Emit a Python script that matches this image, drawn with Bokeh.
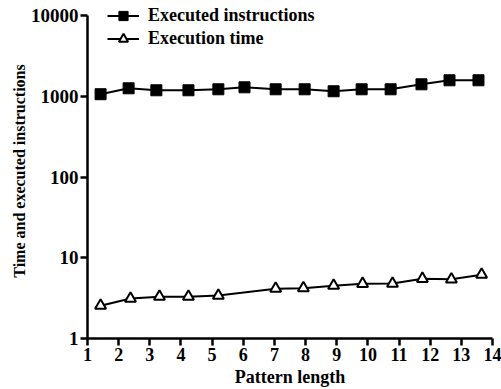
from bokeh.plotting import figure
from bokeh.models import FixedTicker, BasicTickFormatter
from bokeh.embed import file_html
from bokeh.resources import INLINE

# Data
instr_x = [1.42, 2.32, 3.21, 4.24, 5.2, 6.04, 7.04, 7.97, 8.9, 9.8, 10.73, 11.72, 12.62, 13.55]
instr_y = [1060, 1255, 1186, 1186, 1220, 1291, 1220, 1220, 1153, 1220, 1220, 1406, 1577, 1577]
time_x = [1.42, 2.38, 3.31, 4.24, 5.2, 7.04, 7.93, 8.9, 9.83, 10.79, 11.75, 12.68, 13.65]
time_y = [2.55, 3.12, 3.30, 3.30, 3.40, 4.14, 4.2, 4.51, 4.77, 4.8, 5.5, 5.4, 6.17]
x_ticks = list(range(1, 15))
y_ticks = [1, 10, 100, 1000, 10000]
series_names = ["Executed instructions", "Execution time"]
x_title = "Pattern length"
y_title = "Time and executed instructions"

FONT = "Liberation Serif"

# y range extends a little above 10000 so the legend fits inside the frame;
# the axis line itself is bounded to 1..10000
p = figure(width=501, height=389, output_backend="svg", toolbar_location=None,
           y_axis_type="log", x_range=(1, 14), y_range=(1, 14083),
           min_border_left=87, min_border_right=9, min_border_top=3, min_border_bottom=51)
p.outline_line_color = None
p.xgrid.grid_line_color = None
p.ygrid.grid_line_color = None
p.background_fill_color = "white"
p.border_fill_color = "white"

p.line(instr_x, instr_y, line_color="black", line_width=2, legend_label=series_names[0])
p.scatter(instr_x, instr_y, marker="square", size=11, fill_color="black", line_color="black",
          legend_label=series_names[0])
p.line(time_x, time_y, line_color="black", line_width=2, legend_label=series_names[1])
p.scatter(time_x, time_y, marker="triangle", size=11, fill_color="white", line_color="black",
          line_width=2, legend_label=series_names[1])

for ax in (p.xaxis[0], p.yaxis[0]):
    ax.axis_line_width = 2.5
    ax.axis_line_color = "black"
    ax.major_tick_line_width = 2.5
    ax.major_tick_line_color = "black"
    ax.major_tick_in = 0
    ax.major_tick_out = 7
    ax.minor_tick_line_color = None
    ax.major_label_text_font = FONT
    ax.major_label_text_font_style = "bold"
    ax.major_label_text_color = "black"
    ax.major_label_standoff = 2
    ax.axis_label_text_font = FONT
    ax.axis_label_text_font_style = "bold"
    ax.axis_label_text_color = "black"

p.xaxis[0].ticker = FixedTicker(ticks=x_ticks)
p.xaxis[0].major_label_text_font_size = "18px"
p.xaxis[0].axis_label = x_title
p.xaxis[0].axis_label_text_font_size = "18px"
p.xaxis[0].axis_label_standoff = 3

p.yaxis[0].ticker = FixedTicker(ticks=y_ticks)
p.yaxis[0].bounds = (1, 10000)
p.yaxis[0].formatter = BasicTickFormatter(use_scientific=False)
p.yaxis[0].major_label_text_font_size = "19px"
p.yaxis[0].axis_label = y_title
p.yaxis[0].axis_label_text_font_size = "16px"
p.yaxis[0].axis_label_standoff = 0

lg = p.legend[0]
lg.location = (20, 288)
lg.border_line_color = None
lg.background_fill_alpha = 0
lg.padding = 0
lg.margin = 0
lg.spacing = 0
lg.glyph_width = 32
lg.glyph_height = 23
lg.label_height = 20
lg.label_standoff = 9
lg.label_text_font = FONT
lg.label_text_font_style = "bold"
lg.label_text_font_size = "18px"
lg.label_text_color = "black"

open("out.html", "w").write(file_html(p, INLINE))
